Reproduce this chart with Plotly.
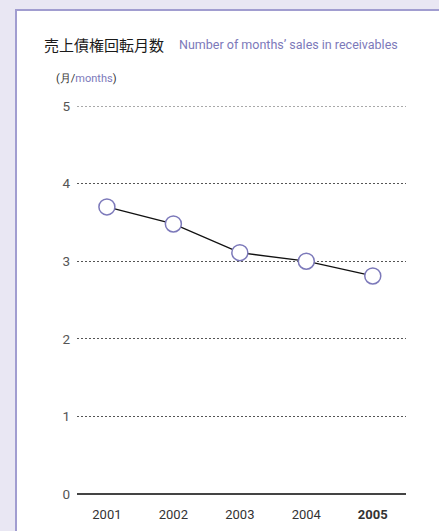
import plotly.graph_objects as go

years = ["2001", "2002", "2003", "2004", "2005"]
year_labels = ["2001", "2002", "2003", "2004", "<b>2005</b>"]
months = [3.70, 3.48, 3.11, 3.00, 2.81]
y_ticks = [0, 1, 2, 3, 4, 5]

W, H = 439, 531
L, R, T, B = 77, 33, 106, 37
pw, ph = W - L - R, H - T - B

def px(x):
    return (x - L) / pw

def py(y):
    return (H - B - y) / ph

NARROW = "Roboto, sans-serif"
CJK = "Noto Sans CJK JP, sans-serif"
PURPLE = "#7C79BA"

fig = go.Figure()
fig.add_trace(go.Scatter(
    x=list(range(len(years))), y=months, mode="lines+markers",
    line=dict(color="#111111", width=1.3),
    marker=dict(size=16, color="white", line=dict(color=PURPLE, width=1.5)),
    hoverinfo="skip", showlegend=False, cliponaxis=False,
))

fig.update_layout(
    width=W, height=H,
    margin=dict(l=L, r=R, t=T, b=B, autoexpand=False),
    paper_bgcolor="#E9E7F3",
    plot_bgcolor="white",
    xaxis=dict(
        range=[-0.45, 4.5], tickvals=list(range(len(years))), ticktext=year_labels,
        showgrid=False, zeroline=False, showline=False, ticks="",
        ticklabelstandoff=11, automargin=False,
        tickfont=dict(family=NARROW, size=13, color="#333333"),
        fixedrange=True,
    ),
    yaxis=dict(
        range=[0, 5], tickvals=y_ticks, ticktext=[str(v) for v in y_ticks],
        showgrid=True, gridcolor="#555555", gridwidth=1, griddash="2px,2px",
        zeroline=True, zerolinecolor="#444444", zerolinewidth=2,
        showline=False, ticks="", ticklabelstandoff=6, automargin=False,
        tickfont=dict(family=NARROW, size=13.5, color="#555555"),
        fixedrange=True,
    ),
    shapes=[
        dict(type="rect", xref="paper", yref="paper", layer="below",
             x0=px(16), x1=px(460), y0=py(560), y1=py(10),
             fillcolor="white", line=dict(color="#A19DD0", width=2)),
        dict(type="line", xref="paper", yref="y", layer="below",
             x0=0, x1=1, y0=y_ticks[-1], y1=y_ticks[-1],
             line=dict(color="#555555", width=1, dash="2px,2px")),
    ],
    annotations=[
        dict(text="売上債権回転月数", xref="paper", yref="paper",
             x=px(42), y=py(45), xanchor="left", yanchor="middle", showarrow=False,
             font=dict(family=CJK, size=15, color="#1a1a1a")),
        dict(text="Number of months’ sales in receivables", xref="paper", yref="paper",
             x=px(177), y=py(45), xanchor="left", yanchor="middle", showarrow=False,
             font=dict(family=NARROW, size=12.5, color=PURPLE)),
        dict(text="(月/<span style='color:%s'>months</span>)" % PURPLE, xref="paper", yref="paper",
             x=px(54), y=py(78), xanchor="left", yanchor="middle", showarrow=False,
             font=dict(family=NARROW, size=11, color="#333333")),
    ],
)

fig.write_html("out.html", config={"displayModeBar": False},
               post_script="document.body.style.margin='0';")
